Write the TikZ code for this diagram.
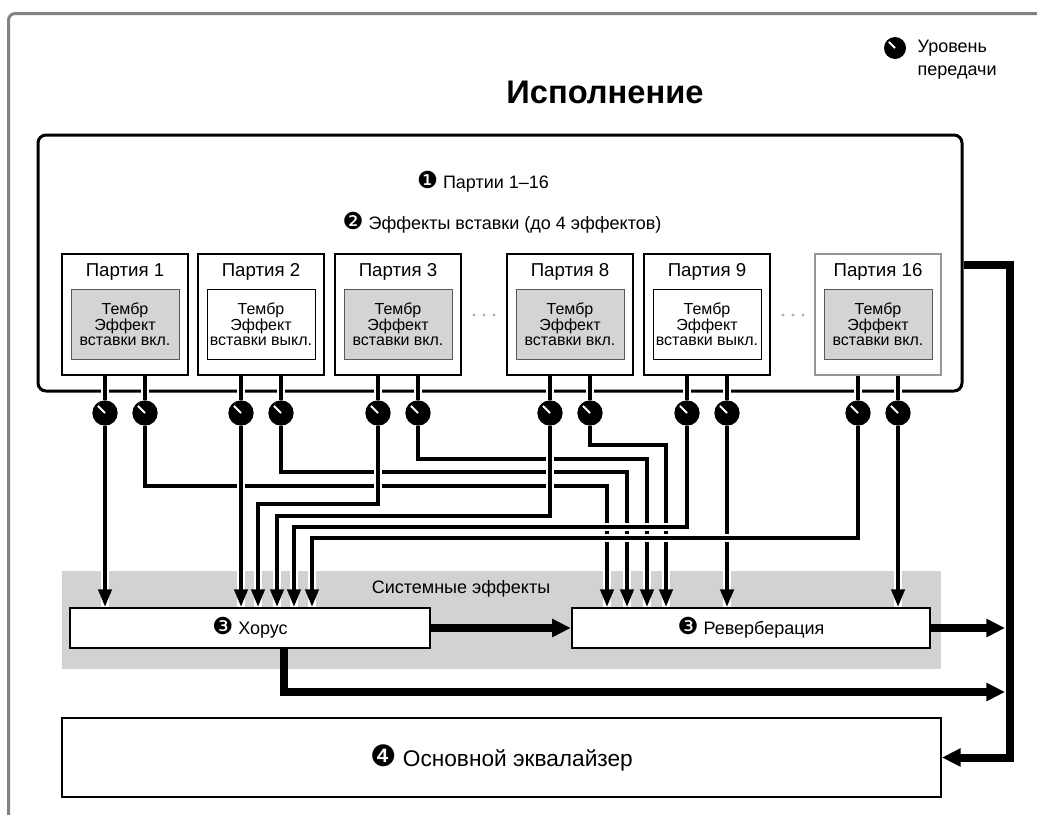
\documentclass[tikz,border=0pt]{standalone}
\usepackage{fontspec}
\setmainfont{Liberation Sans}
\newfontfamily\dingfont[Scale=1.3]{DejaVu Sans}
\usetikzlibrary{arrows.meta,calc}

\definecolor{framegray}{RGB}{128,130,133}
\definecolor{sysgray}{RGB}{209,210,212}
\definecolor{timbregray}{RGB}{212,212,212}
\definecolor{lastgray}{RGB}{150,150,150}
\definecolor{dotgray}{RGB}{175,175,175}

\newcommand\circnum[1]{{\dingfont#1}}

\tikzset{
	partbox/.style={draw, line width=1.9pt, minimum width=94.5pt, minimum height=90.75pt, inner sep=0pt},
	lastpart/.style={partbox, draw=lastgray},
	oninsert/.style={draw=black!65, fill=timbregray, line width=0.75pt, minimum width=81pt, minimum height=52.5pt, inner sep=0pt, align=center, font=\fontsize{12}{11}\selectfont},
	offinsert/.style={oninsert, draw=black, fill=white},
	knob/.style={circle, fill=black, minimum size=19pt, inner sep=0pt, outer sep=0pt},
	stem/.style={line width=2.4pt, preaction={draw=white, line width=6pt}},
	wire/.style={line width=2.4pt, -{Triangle[length=13pt,width=10pt]}, preaction={draw=white, line width=6pt, -}},
	bus/.style={line width=6pt, -{Triangle[length=14pt,width=13pt]}},
	fxbox/.style={draw, line width=1.9pt, fill=white, minimum height=30pt, inner sep=0pt}
}

\begin{document}
\begin{tikzpicture}[x=0.75pt, y=-0.75pt, font=\fontsize{13.5}{16}\selectfont]
			%%%%% START %%%%%
			\useasboundingbox (0,0) rectangle (1037,814);
			
			\draw[framegray, line width=2.25pt, rounded corners=5pt] (8.5,820) -- (8.5,13.5) -- (1045,13.5);
			
			\node[font=\bfseries\fontsize{24.5}{29}\selectfont] (title) at (605,92) {Исполнение};
			
			\node[knob, minimum size=16.5pt] (lgknob) at (895,48) {};
			\draw[white, line width=1.5pt] (lgknob.center) -- ++(135:6.5pt);
			\node[anchor=west, align=left, font=\fontsize{13.5}{17}\selectfont] (lgtext) at (913,60) {Уровень\\передачи};
			
			\fill[sysgray] (62,571) rectangle (941,669);
			\node (systxt) at (461,589) {Системные эффекты};
			
			\node[draw, line width=2.25pt, rounded corners=6pt, minimum width=693pt, minimum height=192pt] (perf) at (500,263) {};
			\node (partsall) at (483,182) {\circnum{❶} Партии 1–16};
			\node (insfx) at (502,223) {\circnum{❷} Эффекты вставки (до 4 эффектов)};
			
			\foreach \n/\cx/\bx/\ix/\st in {1/125/partbox/oninsert/вкл., 2/261/partbox/offinsert/выкл., 3/398/partbox/oninsert/вкл., 8/570/partbox/oninsert/вкл., 9/707/partbox/offinsert/выкл., 16/878/lastpart/oninsert/вкл.}{
				\node[\bx] (p\n) at (\cx,314.5) {};
				\node[font=\fontsize{14}{16}\selectfont] (pt\n) at (\cx,272) {Партия \n};
				\node[\ix] (pi\n) at (\cx,324) {Тембр\\Эффект\\вставки \st};
				\node[knob] (k\n L) at ({\cx-20},413) {};
				\node[knob] (k\n R) at ({\cx+20},413) {};
				\draw[white, line width=1.5pt] (k\n L.center) -- ++(135:7.5pt);
				\draw[white, line width=1.5pt] (k\n R.center) -- ++(135:7.5pt);
				\draw[stem] (p\n.south -| k\n L) -- (k\n L.north);
				\draw[stem] (p\n.south -| k\n R) -- (k\n R.north);
			}
			
			\foreach \dx in {-10,0,10}{
				\fill[dotgray] ({484+\dx},315) circle (1.2pt);
				\fill[dotgray] ({793+\dx},315) circle (1.2pt);
			}
			
			\node[fxbox, minimum width=270pt] (chorus) at (250,628) {\circnum{❸} Хорус};
			\node[fxbox, minimum width=268.5pt] (reverb) at (751,628) {\circnum{❸} Реверберация};
			\node[draw, line width=1.5pt, minimum width=659.25pt, minimum height=59.25pt, font=\fontsize{17}{20}\selectfont] (eq) at (501.5,757.5) {\circnum{❹} Основной эквалайзер};
			
			\coordinate (ch3) at (258,0 |- chorus.north);
			\coordinate (ch4) at (277,0 |- chorus.north);
			\coordinate (ch5) at (294,0 |- chorus.north);
			\coordinate (ch6) at (312,0 |- chorus.north);
			\coordinate (rv1) at (607,0 |- reverb.north);
			\coordinate (rv2) at (627,0 |- reverb.north);
			\coordinate (rv3) at (647,0 |- reverb.north);
			\coordinate (rv4) at (666,0 |- reverb.north);
			
			% send to reverb
			\foreach \k/\y/\t in {1R/486/rv1, 2R/472/rv2, 3R/459/rv3, 8R/445/rv4}
				\draw[wire] (k\k.south) |- (\t |- 0,\y) -- (\t);
			\draw[wire] (k9R.south) -- (reverb.north -| k9R);
			\draw[wire] (k16R.south) -- (reverb.north -| k16R);
			
			% send to chorus
			\draw[wire] (k1L.south) -- (chorus.north -| k1L);
			\draw[wire] (k2L.south) -- (chorus.north -| k2L);
			\foreach \k/\y/\t in {3L/504/ch3, 8L/516/ch4, 9L/527/ch5, 16L/538/ch6}
				\draw[wire] (k\k.south) |- (\t |- 0,\y) -- (\t);
			
			% outputs
			\coordinate (busTop) at (1010,265);
			\draw[bus] (perf.east |- busTop) -- (busTop) |- (eq.east);
			\draw[bus] (chorus.east) -- (reverb.west);
			\draw[bus, shorten >=3.75pt] (reverb.east) -- (reverb.east -| busTop);
			\draw[bus, shorten >=3.75pt] (chorus.south -| 284,0) |- (busTop |- 0,692);
			
			%%%%% END %%%%%
\end{tikzpicture}
\end{document}
